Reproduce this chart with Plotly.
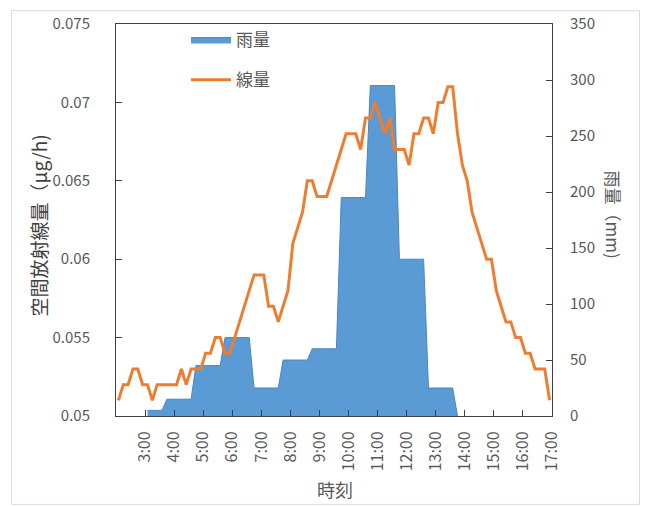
import plotly.graph_objects as go

# 10-minute readings from 2:00 to 16:50
times = [f"{h}:{m:02d}" for h in range(2, 17) for m in range(0, 60, 10)]

# Air dose rate (left axis)
dose = [
    0.051, 0.052, 0.052, 0.053, 0.053, 0.052, 0.052, 0.051, 0.052, 0.052,
    0.052, 0.052, 0.052, 0.053, 0.052, 0.053, 0.053, 0.053, 0.054, 0.054,
    0.055, 0.055, 0.054, 0.054, 0.055, 0.056, 0.057, 0.058, 0.059, 0.059,
    0.059, 0.057, 0.057, 0.056, 0.057, 0.058, 0.061, 0.062, 0.063, 0.065,
    0.065, 0.064, 0.064, 0.064, 0.065, 0.066, 0.067, 0.068, 0.068, 0.068,
    0.067, 0.069, 0.069, 0.070, 0.069, 0.068, 0.069, 0.067, 0.067, 0.067,
    0.066, 0.068, 0.068, 0.069, 0.069, 0.068, 0.070, 0.070, 0.071, 0.071,
    0.068, 0.066, 0.065, 0.063, 0.062, 0.061, 0.060, 0.060, 0.058, 0.057,
    0.056, 0.056, 0.055, 0.055, 0.054, 0.054, 0.053, 0.053, 0.053, 0.051,
]

# Rainfall (right axis), blank where nothing was recorded
rain = [
    None, None, None, None, None, None, 5, 5, 5, 5,
    15, 15, 15, 15, 15, 15, 45, 45, 45, 45,
    45, 45, 70, 70, 70, 70, 70, 70, 25, 25,
    25, 25, 25, 25, 50, 50, 50, 50, 50, 50,
    60, 60, 60, 60, 60, 60, 195, 195, 195, 195,
    195, 195, 295, 295, 295, 295, 295, 295, 140, 140,
    140, 140, 140, 140, 25, 25, 25, 25, 25, 25,
    0, None, None, None, None, None, None, None, None, None,
    None, None, None, None, None, None, None, None, None, None,
]

hour_ticks = list(range(3, 18))
hour_labels = [f"{h}:00" for h in hour_ticks]
dose_ticks = [0.05, 0.055, 0.06, 0.065, 0.07, 0.075]
dose_labels = ["0.05", "0.055", "0.06", "0.065", "0.07", "0.075"]
rain_ticks = [0, 50, 100, 150, 200, 250, 300, 350]

# each reading sits in the middle of its 10-minute slot
def to_hours(t):
    h, m = t.split(":")
    return int(h) + (int(m) + 5) / 60

xs = [to_hours(t) for t in times]
rain_x = [x for x, v in zip(xs, rain) if v is not None]
rain_y = [v for v in rain if v is not None]

FONT = "Noto Sans CJK JP"
GREY = "#595959"
AXIS = "#404040"

fig = go.Figure()
fig.add_trace(go.Scatter(
    x=rain_x, y=rain_y, name="雨量", mode="lines",
    line=dict(color="#4A86C5", width=1),
    fill="tozeroy", fillcolor="#5B9BD5",
    yaxis="y", legendgroup="rain",
))
fig.add_trace(go.Scatter(
    x=xs, y=dose, name="線量", mode="lines",
    line=dict(color="#ED7D31", width=3),
    yaxis="y2", legendgroup="dose",
))

W, H = 646, 506
L, R, T, B = 116, 552, 19, 416
pw, ph = R - L, B - T


def px(x):
    return (x - L) / pw


def py(y):
    return (B - y) / ph


fig.update_layout(
    width=W, height=H,
    margin=dict(l=L, r=W - R, t=T, b=H - B, pad=0),
    paper_bgcolor="white", plot_bgcolor="white",
    font=dict(family=FONT, size=15, color=GREY),
    showlegend=True,
    legend=dict(
        x=px(186), y=py(17), xanchor="left", yanchor="top",
        bgcolor="rgba(0,0,0,0)", font=dict(size=17, color=GREY),
        itemwidth=40, tracegroupgap=15, traceorder="grouped",
    ),
    xaxis=dict(
        range=[2, 17], tickmode="array", tickvals=hour_ticks, ticktext=hour_labels,
        tickangle=-90, ticks="inside", ticklen=6, tickcolor=AXIS,
        showline=True, linecolor=AXIS, linewidth=1, mirror=True,
        showgrid=False, zeroline=False, ticklabelstandoff=8,
        tickfont=dict(size=16),
    ),
    yaxis=dict(
        range=[0, 350], tickmode="array", tickvals=rain_ticks,
        side="right", ticks="inside", ticklen=6, tickcolor=AXIS,
        showline=True, linecolor=AXIS, linewidth=1,
        showgrid=False, zeroline=False, ticklabelstandoff=14,
    ),
    yaxis2=dict(
        range=[0.05, 0.075], tickmode="array", tickvals=dose_ticks, ticktext=dose_labels,
        side="left", overlaying="y", ticks="inside", ticklen=6, tickcolor=AXIS,
        showline=True, linecolor=AXIS, linewidth=1,
        showgrid=False, zeroline=False, ticklabelstandoff=22,
    ),
    shapes=[dict(
        type="rect", xref="paper", yref="paper",
        x0=px(11.5), x1=px(639.5), y0=py(505.5), y1=py(5.5),
        line=dict(color="#D9D9D9", width=1), layer="below",
    )],
    annotations=[
        dict(text="空間放射線量（μg/h)", xref="paper", yref="paper",
             x=px(38), y=py(223), xanchor="center", yanchor="middle",
             textangle=-90, showarrow=False,
             font=dict(size=19, color="#404040")),
        dict(text="雨量（mm)", xref="paper", yref="paper",
             x=px(613), y=py(212), xanchor="center", yanchor="middle",
             textangle=90, showarrow=False,
             font=dict(size=17, color=GREY)),
        dict(text="時刻", xref="paper", yref="paper",
             x=px(335), y=py(490), xanchor="center", yanchor="middle",
             showarrow=False, font=dict(size=18, color=GREY)),
    ],
)

fig.write_html("out.html")
